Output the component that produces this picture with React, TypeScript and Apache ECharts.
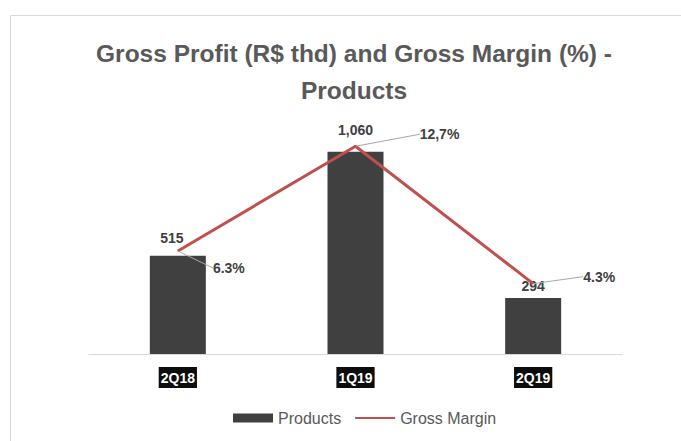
import React, { useEffect, useRef } from "react";
import * as echarts from "echarts";

const categories = ["2Q18", "1Q19", "2Q19"];
const grossProfit = [515, 1060, 294];
const grossProfitLabels = ["515", "1,060", "294"];
const grossMargin = [6.3, 12.7, 4.3];
const grossMarginLabels = ["6.3%", "12,7%", "4.3%"];

const barLabelOffsets = [[-6, -6], [0, -10], [0, 0]];
const lineLabelShift = [[51, 17], [84, -12], [66, -7]];

export default function App() {
  const ref = useRef<HTMLDivElement>(null);
  useEffect(() => {
    if (!ref.current) return;
    const chart = echarts.init(ref.current, undefined, { renderer: "svg" });
    const font = "'Liberation Sans', Arial, sans-serif";
    chart.setOption({
      animation: false,
      backgroundColor: "#fff",
      textStyle: { fontFamily: font },
      graphic: [
        {
          type: "rect",
          shape: { x: 10.5, y: 15.5, width: 700, height: 500 },
          style: { fill: "none", stroke: "#d9d9d9", lineWidth: 1 },
          silent: true,
        },
      ],
      title: {
        text: "Gross Profit (R$ thd) and Gross Margin (%) -\nProducts",
        left: 349,
        textAlign: "center",
        top: 30,
        textStyle: {
          fontFamily: font,
          fontSize: 24.5,
          fontWeight: "bold",
          color: "#595959",
          lineHeight: 37,
        },
      },
      legend: {
        bottom: 10,
        left: 228,
        itemWidth: 40,
        itemHeight: 9,
        itemGap: 13,
        textStyle: { color: "#595959", fontSize: 16, fontFamily: font },
        data: [
          { name: "Products", icon: "rect" },
          { name: "Gross Margin", itemStyle: { opacity: 0 } },
        ],
      },
      grid: { left: 89, right: 59, top: 125, bottom: 87 },
      xAxis: {
        type: "category",
        data: categories,
        axisLine: { lineStyle: { color: "#d9d9d9", width: 1 } },
        axisTick: { show: false },
        axisLabel: {
          margin: 13,
          color: "#fff",
          backgroundColor: "#0d0d0d",
          fontWeight: "bold",
          fontSize: 14,
          padding: [4, 2, 3, 2],
          fontFamily: font,
        },
      },
      yAxis: [
        { type: "value", min: 0, max: 1200, show: false, splitLine: { show: false } },
        { type: "value", min: 0, max: 14, show: false, splitLine: { show: false } },
      ],
      series: [
        {
          name: "Products",
          type: "bar",
          barWidth: 56,
          itemStyle: { color: "#404040" },
          data: grossProfit.map((v, i) => ({
            value: v,
            label: {
              show: true,
              position: "top",
              distance: 5,
              offset: barLabelOffsets[i],
              formatter: grossProfitLabels[i],
            },
          })),
          label: {
            color: "#404040",
            fontWeight: "bold",
            fontSize: 14,
            fontFamily: font,
          },
        },
        {
          name: "Gross Margin",
          type: "line",
          yAxisIndex: 1,
          symbol: "circle",
          symbolSize: 1,
          lineStyle: { color: "#c0504d", width: 3 },
          itemStyle: { color: "#c0504d" },
          data: grossMargin,
          label: {
            show: true,
            position: "inside",
            color: "#404040",
            fontWeight: "bold",
            fontSize: 14,
            fontFamily: font,
            formatter: (p: any) => grossMarginLabels[p.dataIndex],
          },
          labelLine: { show: true, lineStyle: { color: "#a6a6a6", width: 1 } },
          labelLayout: (p: any) => ({
            dx: lineLabelShift[p.dataIndex][0],
            dy: lineLabelShift[p.dataIndex][1],
          }),
        },
      ],
    });
    return () => chart.dispose();
  }, []);
  return (
    <div
      ref={ref}
      style={{ position: "absolute", left: 0, top: 0, width: 681, height: 441 }}
    />
  );
}
